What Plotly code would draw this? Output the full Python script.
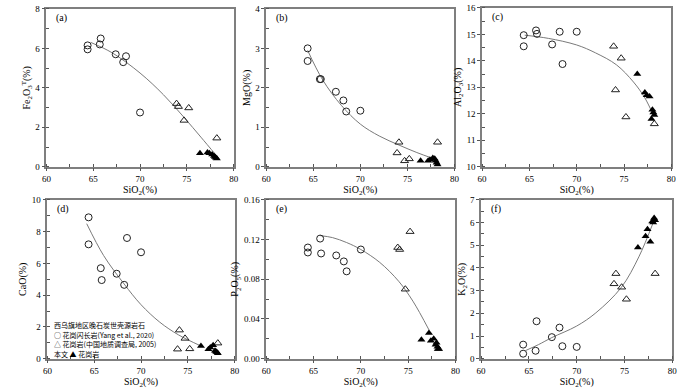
import plotly.graph_objects as go

# ---- data ----
sio2_gd = [64.4, 64.4, 65.7, 65.8, 67.4, 68.2, 68.5, 70.0]          # 花岗闪长岩 (circles)
sio2_gr = [73.9, 74.1, 74.7, 75.2, 78.2]                             # 花岗岩 2005 (open triangles)
sio2_tw = [76.4, 77.2, 77.4, 77.7, 77.9, 78.0, 78.1, 78.2]           # 本文 (filled triangles)

fe_gd = [6.15, 5.95, 6.2, 6.5, 5.7, 5.3, 5.6, 2.75]
fe_gr = [3.2, 3.05, 2.35, 2.98, 1.45]
fe_tw = [0.68, 0.72, 0.68, 0.62, 0.55, 0.5, 0.45, 0.42]

mg_gd = [3.0, 2.68, 2.22, 2.22, 1.9, 1.68, 1.4, 1.42]
mg_gr = [0.35, 0.62, 0.15, 0.2, 0.62]
mg_tw = [0.15, 0.15, 0.18, 0.22, 0.2, 0.15, 0.1, 0.06]

al_gd = [14.97, 14.55, 15.15, 15.02, 14.62, 15.1, 13.88, 15.1]
al_gr = [14.55, 12.9, 14.1, 11.88, 11.62]
al_tw = [13.5, 12.8, 12.7, 12.65, 11.8, 12.15, 12.05, 11.95]

ca_gd = [8.9, 7.2, 5.7, 4.95, 5.35, 4.65, 7.6, 6.7]
ca_gr = [0.6, 1.8, 1.28, 0.62, 0.98]
ca_tw = [0.8, 0.6, 0.7, 0.85, 0.5, 0.45, 0.4, 0.35]

p_gd = [0.112, 0.107, 0.121, 0.106, 0.104, 0.098, 0.088, 0.110]
p_gr = [0.112, 0.110, 0.070, 0.128, 0.010]
p_tw = [0.019, 0.026, 0.018, 0.020, 0.014, 0.016, 0.012, 0.010]

k_gd = [0.62, 0.22, 0.35, 1.65, 0.95, 1.37, 0.55, 0.52]
k_gr = [3.3, 3.75, 3.15, 2.62, 3.75]
k_tw = [4.9, 5.4, 5.7, 5.15, 6.05, 6.0, 6.2, 6.1]

# trend curves
fe_cx = [64.74, 67, 70, 72.5, 74.7, 76.5, 78.1]
fe_cy = [6.3, 5.78, 4.75, 3.65, 2.5, 1.5, 0.6]
mg_cx = [64.4, 66, 68, 70, 72, 74.1, 76, 77.6]
mg_cy = [2.95, 2.2, 1.55, 1.08, 0.78, 0.55, 0.36, 0.22]
al_cx = [64.5, 67, 70, 72, 74.2, 76, 77.2, 78.1]
al_cy = [14.97, 14.85, 14.6, 14.3, 13.85, 13.2, 12.6, 11.95]
ca_cx = [64.2, 66, 68.2, 70, 72, 74, 76.4]
ca_cy = [8.5, 6.5, 4.7, 3.4, 2.3, 1.5, 0.8]
p_cx = [65.7, 67, 68.5, 70, 72, 74, 75.5, 77.2]
p_cy = [0.124, 0.122, 0.117, 0.110, 0.097, 0.078, 0.058, 0.029]
k_cx = [64.66, 66, 67.4, 70, 72, 74.66, 76.5, 78.0]
k_cy = [0.36, 0.62, 0.93, 1.44, 2.02, 3.14, 4.49, 6.0]

panels = [
    dict(lab="(a)", yt="Fe<sub>2</sub>O<sub>3</sub><sup>T</sup>(%)", yr=[0, 8], dt=2, fmt="d",
         gd=fe_gd, gr=fe_gr, tw=fe_tw, cx=fe_cx, cy=fe_cy, px=(42, 232), py=(4, 166)),
    dict(lab="(b)", yt="MgO(%)", yr=[0, 4], dt=1, fmt="d",
         gd=mg_gd, gr=mg_gr, tw=mg_tw, cx=mg_cx, cy=mg_cy, px=(265, 456), py=(4, 166)),
    dict(lab="(c)", yt="Al<sub>2</sub>O<sub>3</sub>(%)", yr=[10, 16], dt=1, fmt="d",
         gd=al_gd, gr=al_gr, tw=al_tw, cx=al_cx, cy=al_cy, px=(484, 676), py=(3, 166)),
    dict(lab="(d)", yt="CaO(%)", yr=[0, 10], dt=2, fmt="d",
         gd=ca_gd, gr=ca_gr, tw=ca_tw, cx=ca_cx, cy=ca_cy, px=(43, 233), py=(200, 363)),
    dict(lab="(e)", yt="P<sub>2</sub>O<sub>5</sub>(%)", yr=[0, 0.16], dt=0.04, fmt=".2f",
         gd=p_gd, gr=p_gr, tw=p_tw, cx=p_cx, cy=p_cy, px=(265, 457), py=(200, 363)),
    dict(lab="(f)", yt="K<sub>2</sub>O(%)", yr=[0, 7], dt=1, fmt="d",
         gd=k_gd, gr=k_gr, tw=k_tw, cx=k_cx, cy=k_cy, px=(483, 677), py=(200, 363)),
]

W, H = 700, 390
SERIF = "Liberation Serif"
CJK = "Noto Sans CJK SC"
mk_col = "#222222"

fig = go.Figure()
layout = dict(width=W, height=H, margin=dict(l=0, r=0, t=0, b=0),
              paper_bgcolor="white", plot_bgcolor="white", showlegend=False,
              font=dict(family=SERIF, size=9, color="black"))
annotations = []

for i, p in enumerate(panels):
    n = "" if i == 0 else str(i + 1)
    xa, ya = "x" + n, "y" + n
    fig.add_trace(go.Scatter(x=p["cx"], y=p["cy"], mode="lines", xaxis=xa, yaxis=ya,
                             line=dict(color="#7a7a7a", width=1, shape="spline"), hoverinfo="skip"))
    fig.add_trace(go.Scatter(x=sio2_gd, y=p["gd"], mode="markers", xaxis=xa, yaxis=ya,
                             marker=dict(symbol="circle-open", size=7, color=mk_col, line=dict(width=1))))
    fig.add_trace(go.Scatter(x=sio2_gr, y=p["gr"], mode="markers", xaxis=xa, yaxis=ya,
                             marker=dict(symbol="triangle-up-open", size=7, color=mk_col, line=dict(width=1))))
    fig.add_trace(go.Scatter(x=sio2_tw, y=p["tw"], mode="markers", xaxis=xa, yaxis=ya,
                             marker=dict(symbol="triangle-up", size=7, color="black", line=dict(width=0))))
    x0, x1 = p["px"]
    y0, y1 = p["py"]
    common = dict(showline=True, mirror=True, linecolor="#7f7f7f", linewidth=1.5,
                  showgrid=False, zeroline=False, ticks="outside", ticklen=3,
                  tickcolor="#555", tickfont=dict(family=SERIF, size=9, color="black"))
    layout["xaxis" + n] = dict(common, domain=[x0 / W, x1 / W], range=[60, 80], dtick=5,
                               anchor=ya,
                               minor=dict(dtick=2.5, ticks="inside", ticklen=3, tickcolor="#555"),
                               title=dict(text="SiO<sub>2</sub>(%)", standoff=1,
                                          font=dict(family=SERIF, size=10)))
    layout["yaxis" + n] = dict(common, domain=[1 - y1 / H, 1 - y0 / H], range=p["yr"],
                               dtick=p["dt"], tickformat=p["fmt"], anchor=xa,
                               minor=dict(dtick=p["dt"] / 2, ticks="inside", ticklen=3, tickcolor="#555"),
                               title=dict(text=p["yt"], standoff=3,
                                          font=dict(family=SERIF, size=10)))
    annotations.append(dict(text=p["lab"], xref="paper", yref="paper",
                            x=(x0 + 8) / W, y=1 - (y0 + 9) / H, xanchor="left", yanchor="middle",
                            showarrow=False, font=dict(family=SERIF, size=10)))

# legend text in panel (d)
leg_lines = [
    ("西乌旗地区晚石炭世壳源岩石", 328.5),
    ("○ 花岗闪长岩(Yang et al., 2020)", 338.5),
    ("△ 花岗岩(中国地质调查局, 2005)", 348),
    ("本文 ▲ 花岗岩", 358),
]
for txt, yp in leg_lines:
    annotations.append(dict(text=txt, xref="paper", yref="paper", x=48 / W, y=1 - yp / H,
                            xanchor="left", yanchor="middle", showarrow=False,
                            font=dict(family=CJK, size=7, color="black")))

layout["annotations"] = annotations
fig.update_layout(**layout)
fig.write_html("out.html", config={"displayModeBar": False},
               post_script="document.body.style.margin='0px';document.body.style.overflow='hidden';")
